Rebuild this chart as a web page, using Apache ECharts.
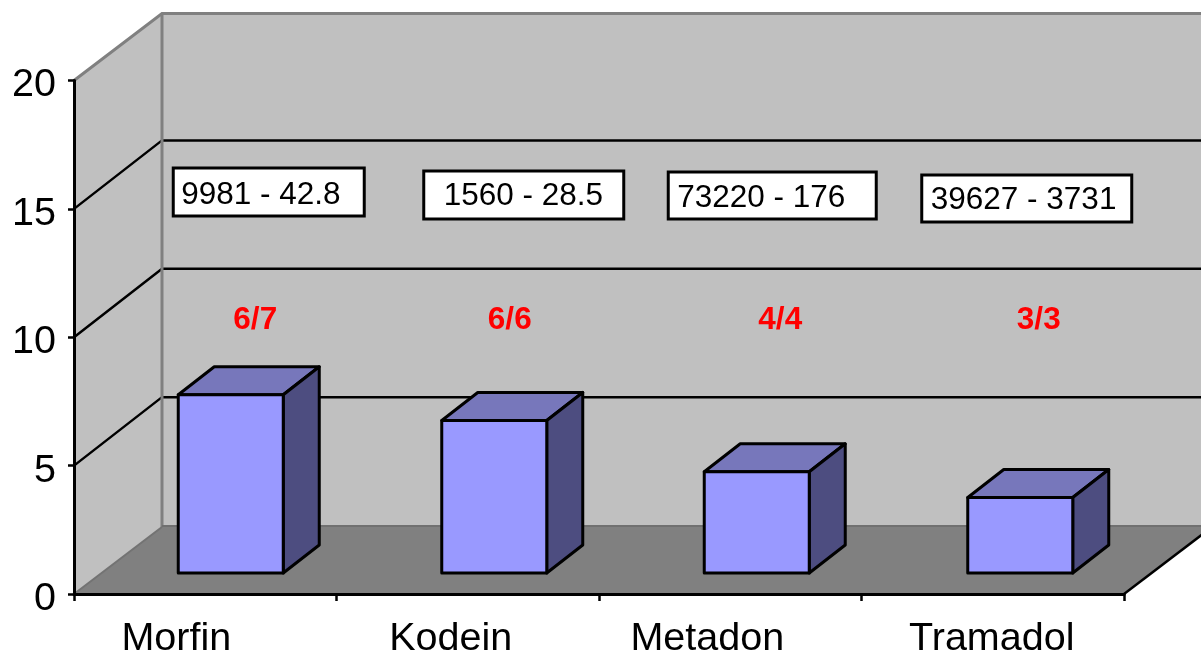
<!DOCTYPE html>
<html><head><meta charset="utf-8">
<style>html,body{margin:0;padding:0;background:#fff;overflow:hidden}#c{width:1201px;height:656px}</style>
<script src="https://cdn.jsdelivr.net/npm/echarts@6/dist/echarts.min.js"></script>
</head><body><div id="c"></div>
<script>
const categories = ['Morfin', 'Kodein', 'Metadon', 'Tramadol'];
const barValues = [7, 6, 4, 3];
const ratioLabels = ['6/7', '6/6', '4/4', '3/3'];
const rangeLabels = ['9981 - 42.8', '1560 - 28.5', '73220 - 176', '39627 - 3731'];
const yTicks = [0, 5, 10, 15, 20];

// layout only (pixels relative to category centres / axes)
const FONT = '"Liberation Sans", Arial, sans-serif';
const DEPTH = {x: 88, y: -67};
const BAR = {w: 105, dy: -21, dx: [-27, -26, -26, -25], ox: 36, oy: -28, topNudge: 1.5};
const RATIO = {dx: [50, 42, 50, 46], y: 320.5};
const BOX = [
  {x: -32, y: 168, w: 191, h: 48, tx: 8, ty: 195},
  {x: -44, y: 171, w: 200, h: 48, tx: 20, ty: 196},
  {x: -62, y: 172, w: 208, h: 47, tx: 9, ty: 198},
  {x: -71, y: 175, w: 210, h: 47, tx: 9, ty: 200}
];
const LABEL_SHIFT = [58, 34, 46, 2];

function wallItem(p, api) {
  const x0 = api.coord([0, 0])[0] - 131.25;
  const [, y0] = api.coord([0, 0]);
  const y20 = api.coord([0, 20])[1];
  const x1 = x0 + 1050;
  const dx = DEPTH.x, dy = DEPTH.y;
  const kids = [];
  kids.push({type: 'polygon', shape: {points: [[x0, y0], [x0 + dx, y0 + dy], [x0 + dx, y20 + dy], [x0, y20]]}, style: {fill: '#c0c0c0'}});
  kids.push({type: 'rect', shape: {x: x0 + dx, y: y20 + dy, width: 1050, height: y0 - y20}, style: {fill: '#c0c0c0'}});
  kids.push({type: 'polygon', shape: {points: [[x0, y0], [x1, y0], [x1 + dx, y0 + dy], [x0 + dx, y0 + dy]]}, style: {fill: '#808080'}});
  yTicks.forEach(t => {
    const y = api.coord([0, t])[1];
    if (t > 0 && t < 20) {
      kids.push({type: 'polyline', shape: {points: [[x0, y], [x0 + dx, y + dy - 1.5], [x1 + dx, y + dy - 1.5]]}, style: {fill: 'none', stroke: '#000', lineWidth: 2.5}});
    }
  });
  const gray = {fill: 'none', stroke: '#808080', lineWidth: 3};
  kids.push({type: 'polyline', shape: {points: [[x0, y20], [x0 + dx, y20 + dy], [x1 + dx, y20 + dy]]}, style: gray});
  kids.push({type: 'line', shape: {x1: x0 + dx, y1: y20 + dy, x2: x0 + dx, y2: y0 + dy}, style: gray});
  kids.push({type: 'line', shape: {x1: x0, y1: y0, x2: x0 + dx, y2: y0 + dy}, style: {stroke: '#737373', lineWidth: 2}});
  kids.push({type: 'line', shape: {x1: x0 + dx, y1: y0 + dy - 1, x2: x1 + dx, y2: y0 + dy - 1}, style: {stroke: '#707070', lineWidth: 2}});
  kids.push({type: 'line', shape: {x1: x1, y1: y0, x2: x1 + dx, y2: y0 + dy}, style: {stroke: '#000', lineWidth: 2.5}});
  return {type: 'group', children: kids};
}

function barItem(p, api) {
  const i = api.value(0), v = api.value(1);
  const c0 = api.coord([i, 0]), c1 = api.coord([i, v]);
  const l = c0[0] + BAR.dx[i], r = l + BAR.w;
  const b = c0[1] + BAR.dy, t = c1[1] + BAR.dy + BAR.topNudge;
  const ox = BAR.ox, oy = BAR.oy;
  const s = {stroke: '#000', lineWidth: 3, lineJoin: 'round'};
  return {type: 'group', children: [
    {type: 'polygon', shape: {points: [[l, t], [r, t], [r + ox, t + oy], [l + ox, t + oy]]}, style: {...s, fill: '#7777bb'}},
    {type: 'polygon', shape: {points: [[r, t], [r + ox, t + oy], [r + ox, b + oy], [r, b]]}, style: {...s, fill: '#4d4d80'}},
    {type: 'rect', shape: {x: l, y: t, width: BAR.w, height: b - t}, style: {...s, fill: '#9999ff'}}
  ]};
}

function ratioItem(p, api) {
  const i = p.dataIndex;
  const c = api.coord([i, 0]);
  return {type: 'text', x: c[0] + RATIO.dx[i], y: RATIO.y, style: {text: ratioLabels[i], fill: '#ff0000',
    font: 'bold 31.5px ' + FONT, align: 'center', verticalAlign: 'middle'}};
}

function boxItem(p, api) {
  const i = p.dataIndex, b = BOX[i];
  const c = api.coord([i, 0]);
  const x = c[0] + b.x;
  return {type: 'group', children: [
    {type: 'rect', shape: {x: x, y: b.y, width: b.w, height: b.h}, style: {fill: '#fff', stroke: '#000', lineWidth: 3}},
    {type: 'text', x: x + b.tx, y: b.ty, style: {text: rangeLabels[i], fill: '#000', font: '31.5px ' + FONT, align: 'left', verticalAlign: 'middle'}}
  ]};
}

const idx = categories.map((_, i) => [i, barValues[i]]);
const chart = echarts.init(document.getElementById('c'), null, {renderer: 'canvas'});
chart.setOption({
  animation: false,
  backgroundColor: '#fff',
  grid: {left: 74, top: 80.5, width: 1050, height: 513.5, containLabel: false, outerBoundsMode: 'none'},
  xAxis: {
    type: 'category', z: 10,
    data: categories.map((c, i) => ({value: c, textStyle: {padding: [0, LABEL_SHIFT[i], 0, 0]}})),
    axisLine: {lineStyle: {color: '#000', width: 3}},
    axisTick: {show: true, length: 7, lineStyle: {color: '#000', width: 2.5}},
    axisLabel: {color: '#000', fontFamily: FONT, fontSize: 39.5, margin: 25, interval: 0, hideOverlap: false}
  },
  yAxis: {
    type: 'value', z: 10, min: 0, max: 20, interval: 5,
    axisLine: {show: true, lineStyle: {color: '#000', width: 3}},
    axisTick: {show: true, length: 6, lineStyle: {color: '#000', width: 2.5}},
    splitLine: {show: false},
    axisLabel: {
      color: '#000', fontFamily: FONT, fontSize: 39.5, margin: 18,
      formatter: v => '{n|' + v + '}',
      rich: {n: {color: '#000', fontFamily: FONT, fontSize: 39.5, padding: [10, 0, 0, 0]}}
    }
  },
  series: [
    {type: 'custom', z: 1, silent: true, renderItem: wallItem, data: [[0, 0]]},
    {type: 'custom', z: 3, silent: true, renderItem: barItem, data: idx, encode: {x: 0, y: 1}},
    {type: 'custom', z: 4, silent: true, renderItem: ratioItem, data: idx},
    {type: 'custom', z: 5, silent: true, renderItem: boxItem, data: idx}
  ]
});
</script></body></html>
